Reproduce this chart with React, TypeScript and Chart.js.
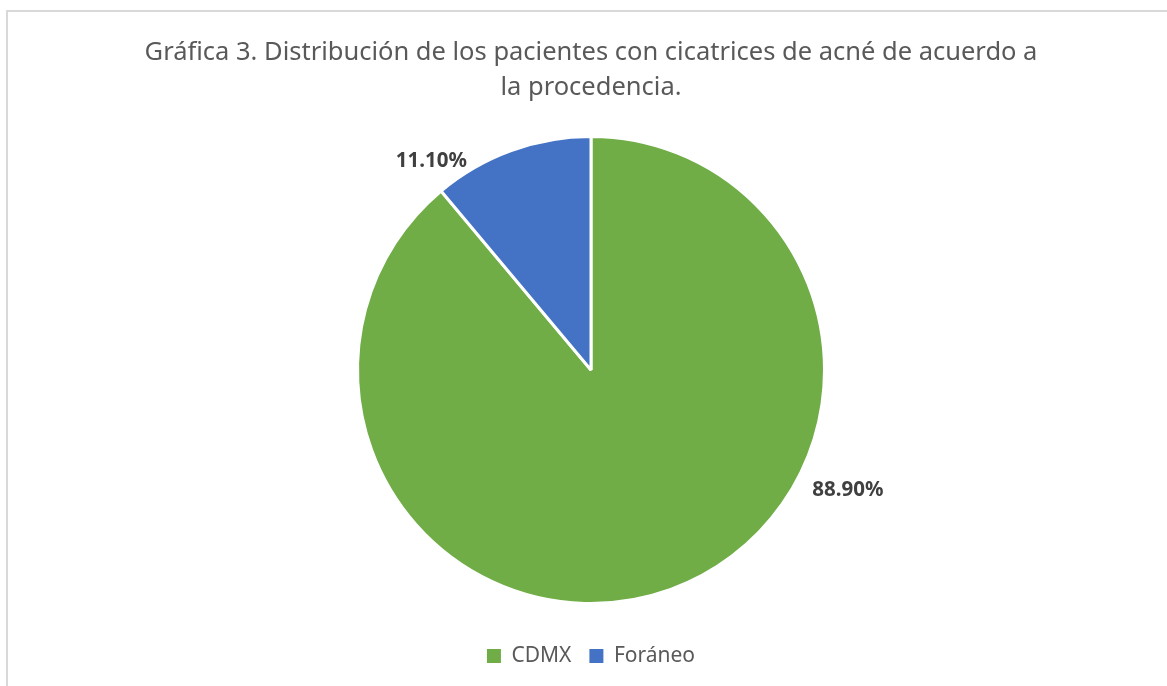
import React, { useEffect, useRef } from "react";
import { Chart, registerables } from "chart.js";

Chart.register(...registerables);

const titleLines = [
  "Gráfica 3. Distribución de los pacientes con cicatrices de acné de acuerdo a",
  "la procedencia.",
];
const categories = ["CDMX", "Foráneo"];
const values = [88.9, 11.1];
const valueLabels = ["88.90%", "11.10%"];
const colors = ["#70AD47", "#4472C4"];
// label placement (angle in degrees from +x axis, radius factor)
const labelAngles = [25, -127.4];
const labelRadii = [1.214, 1.125];

const FONT = "'Noto Sans', 'Open Sans', sans-serif";

const labelPlugin = {
  id: "sliceLabels",
  afterDatasetsDraw(chart: any) {
    const meta = chart.getDatasetMeta(0);
    const ctx = chart.ctx;
    ctx.save();
    ctx.font = `bold 20.5px ${FONT}`;
    ctx.fillStyle = "#404040";
    ctx.textAlign = "center";
    ctx.textBaseline = "middle";
    meta.data.forEach((arc: any, i: number) => {
      const a = (labelAngles[i] * Math.PI) / 180;
      const r = arc.outerRadius * labelRadii[i];
      ctx.fillText(valueLabels[i], arc.x + Math.cos(a) * r, arc.y + Math.sin(a) * r);
    });
    ctx.restore();
  },
};

export default function App() {
  const ref = useRef<HTMLCanvasElement>(null);
  useEffect(() => {
    document.body.style.overflow = "hidden";
    const chart = new Chart(ref.current!, {
      type: "pie",
      data: {
        labels: categories,
        datasets: [
          {
            data: values,
            backgroundColor: colors,
            borderColor: "#ffffff",
            borderWidth: 3,
          },
        ],
      },
      options: {
        animation: false,
        responsive: false,
        events: [],
        layout: { padding: { top: 0, bottom: 9.5, left: 0, right: 0 } },
        plugins: {
          title: {
            display: true,
            text: titleLines,
            color: "#595959",
            font: { family: FONT, size: 25.5, weight: "normal", lineHeight: 35 / 25.5 },
            padding: { top: 35.5, bottom: 29.5 },
          },
          legend: {
            position: "bottom",
            title: {
              display: true,
              text: "",
              font: { size: 10, lineHeight: 1 },
              padding: { top: 0, bottom: 12.5 },
            },
            labels: {
              color: "#595959",
              font: { family: FONT, size: 21 },
              boxWidth: 14,
              boxHeight: 14,
              padding: 18,
              generateLabels: (c: any) =>
                (Chart as any).overrides.pie.plugins.legend.labels
                  .generateLabels(c)
                  .map((l: any) => ({ ...l, lineWidth: 0, strokeStyle: "transparent" })),
            },
          },
          tooltip: { enabled: false },
        },
      },
      plugins: [labelPlugin],
    });
    return () => chart.destroy();
  }, []);
  return (
    <div
      style={{
        position: "fixed",
        left: 0,
        top: 0,
        width: 1167,
        height: 686,
        overflow: "hidden",
        background: "#ffffff",
      }}
    >
      <div
        style={{
          position: "absolute",
          left: 6,
          top: 10,
          width: 2000,
          height: 2000,
          borderTop: "2px solid #d9d9d9",
          borderLeft: "2px solid #d9d9d9",
        }}
      />
      <canvas
        ref={ref}
        width={1182}
        height={686}
        style={{ position: "absolute", left: 0, top: 0, width: 1182, height: 686 }}
      />
    </div>
  );
}
